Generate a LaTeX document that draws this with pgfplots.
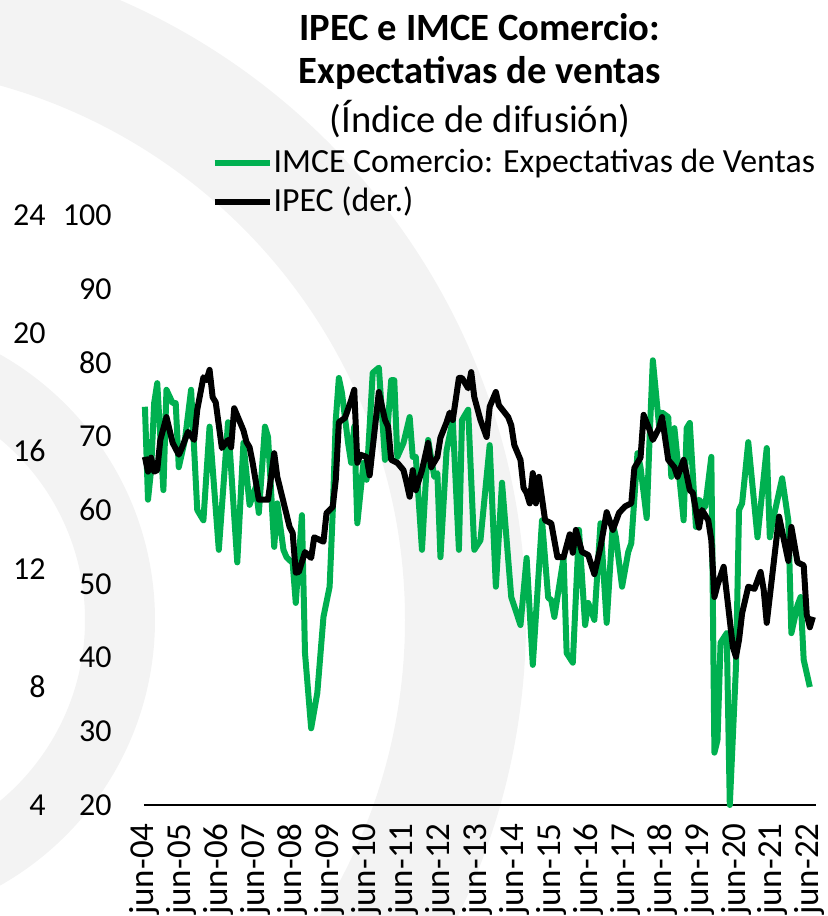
\documentclass[border=0pt]{standalone}
\usepackage{fontspec}
\setmainfont{Carlito}
\usepackage{pgfplots}
\pgfplotsset{compat=1.18}
\definecolor{imce}{HTML}{00B050}
\definecolor{bgring}{HTML}{F3F3F3}
\newcommand{\tickfont}{\fontsize{16}{19}\selectfont}
\newcommand{\xtickfont}{\fontsize{17.5}{21}\selectfont}
\newcommand{\legfont}{\fontsize{16.9}{20}\selectfont}
\begin{document}
\begin{tikzpicture}
\path[use as bounding box] (-72pt,-55.5pt) rectangle (342pt,402.5pt);
% faint background rings (decoration)
\fill[bgring, even odd rule] (-147pt,92.5pt) circle (338pt) (-147pt,92.5pt) circle (277.5pt);
\fill[bgring, even odd rule] (-147pt,92.5pt) circle (152.5pt) (-147pt,92.5pt) circle (117.5pt);
\begin{axis}[
  scale only axis, width=336pt, height=295pt,
  xmin=-0.3, xmax=218, ymin=20, ymax=100,
  axis x line*=bottom, axis y line*=left,
  y axis line style={draw=none},
  x axis line style={line width=0.8pt},
  xtick={0,12,...,216},
  xticklabels={jun-04,jun-05,jun-06,jun-07,jun-08,jun-09,jun-10,jun-11,jun-12,jun-13,jun-14,jun-15,jun-16,jun-17,jun-18,jun-19,jun-20,jun-21,jun-22},
  ytick={20,30,...,100},
  major tick length=0pt,
  xticklabel style={rotate=90, anchor=east, inner sep=0pt, font=\xtickfont},
  xticklabel shift=9pt,
  yticklabel style={anchor=east, inner sep=0pt, font=\tickfont},
  yticklabel shift=16pt,
  /pgf/number format/assume math mode=true,
  clip=false,
  legend style={draw=none, fill=none, at={(0.1000,1.0551)}, anchor=west, inner sep=0pt,
    row sep=5.5pt, font=\legfont,
    nodes={inner sep=0pt, inner xsep=0.5pt, text height=12pt, text depth=2pt}},
  legend cell align=left,
  legend image code/.code={\draw[#1] (0pt,0pt) -- (27.5pt,0pt);},
]
\addplot[imce, line width=3pt, line join=round] coordinates {
(0,74.0) (1,61.4) (2,65.4) (3,74.5) (4,77.2) (6,62.7) (7,76.3) (9,74.5) (10,74.5) (11,65.8) (13,69.5) (15,76.3) (17,60.0) (19,58.6) (21,71.3) (24,54.6) (27,71.9) (30,52.9) (32,69.1) (34,60.7) (36,63.1) (37,59.6) (39,71.3) (40,69.9) (42,55.0) (43,60.9) (45,54.6) (46,53.6) (48,52.8) (49,47.4) (51,59.3) (52,40.6) (54,30.4) (56,35.2) (58,45.5) (60,49.6) (61,59.6) (62,72.2) (63,77.9) (64,75.9) (66,69.1) (67,66.4) (68,71.3) (69,58.2) (71,66.4) (72,64.1) (74,78.6) (76,79.3) (78,66.8) (80,77.6) (81,77.6) (82,67.2) (84,69.1) (86,72.6) (87,67.2) (88,67.2) (90,54.6) (92,69.5) (94,64.5) (95,65.0) (96,53.6) (98,68.1) (100,72.2) (102,54.6) (103,72.2) (105,73.6) (107,54.6) (109,55.9) (112,68.8) (114,49.6) (116,63.7) (119,48.2) (122,44.4) (124,53.5) (126,39.0) (129,58.6) (131,48.1) (132,47.8) (133,45.5) (136,53.5) (137,40.6) (139,39.3) (141,57.3) (143,44.4) (144,47.4) (146,45.1) (148,58.2) (150,44.7) (152,58.2) (153,56.3) (155,49.6) (157,54.3) (158,55.5) (160,67.7) (161,65.8) (163,58.9) (164,70.4) (165,80.3) (167,71.5) (168,73.2) (170,72.6) (171,64.5) (172,71.1) (175,58.6) (176,71.1) (177,71.8) (179,57.7) (180,61.4) (182,60.4) (184,67.2) (185,27.1) (186,28.8) (187,42.0) (189,43.3) (190,20.0) (192,38.7) (193,60.0) (194,60.9) (196,69.2) (199,56.3) (202,68.4) (203,56.3) (204,58.6) (207,64.3) (209,58.6) (210,43.3) (212,47.1) (213,48.2) (214,39.7) (216,36.0)
};
\addlegendentry{IMCE Comercio: Expectativas de Ventas}
\addplot[black, line width=3pt, line join=round] coordinates {
(0,67.2) (1,65.2) (2,67.1) (3,65.2) (4,65.4) (5,69.5) (7,72.6) (9,69.1) (11,67.5) (12,68.4) (14,70.6) (16,69.5) (17,73.6) (19,78.0) (20,77.6) (21,79.0) (22,75.3) (23,74.6) (25,68.4) (27,69.5) (28,68.5) (29,73.8) (32,70.8) (33,69.2) (34,68.5) (35,66.4) (37,61.4) (40,61.4) (42,67.7) (43,64.5) (47,57.7) (48,56.9) (49,51.5) (50,51.6) (52,54.3) (54,53.5) (55,56.3) (58,55.7) (59,59.6) (61,60.4) (62,64.1) (63,71.9) (65,72.5) (67,74.9) (68,76.3) (69,66.4) (70,67.5) (72,67.2) (73,64.7) (76,76.0) (78,72.2) (79,71.3) (80,66.8) (82,66.4) (84,65.4) (85,63.7) (86,61.8) (87,65.4) (88,62.7) (90,65.4) (92,69.1) (93,65.8) (95,67.2) (96,69.8) (98,71.9) (99,73.2) (100,72.2) (102,77.9) (103,77.9) (105,76.5) (106,78.7) (107,75.3) (109,72.2) (111,69.9) (112,74.0) (114,76.0) (115,74.2) (118,72.6) (119,71.5) (120,68.8) (122,66.8) (123,63.0) (124,62.3) (125,60.9) (126,65.0) (127,60.9) (128,64.5) (130,58.6) (132,58.2) (134,53.6) (136,53.6) (138,56.7) (139,54.2) (140,57.3) (142,54.3) (144,53.9) (146,51.3) (148,55.0) (150,59.7) (152,57.3) (154,59.6) (156,60.5) (158,60.9) (159,65.7) (161,67.1) (162,72.9) (164,70.8) (165,69.5) (167,71.1) (168,72.6) (170,66.8) (172,65.8) (173,64.5) (175,66.8) (177,62.7) (178,62.3) (180,57.6) (181,60.0) (183,58.6) (184,55.9) (185,48.2) (186,49.8) (188,52.3) (191,41.4) (192,40.1) (193,42.4) (194,46.0) (196,49.6) (198,49.3) (200,51.6) (201,49.2) (202,44.7) (204,51.9) (206,59.1) (209,53.1) (210,57.7) (212,52.9) (214,52.5) (215,45.8) (216,44.1) (217,45.5)
};
\addlegendentry{IPEC (der.)}
\end{axis}
\begin{axis}[
  scale only axis, width=336pt, height=295pt,
  xmin=0, xmax=1, ymin=4, ymax=24,
  hide x axis, axis y line*=left,
  y axis line style={draw=none},
  ytick={4,8,...,24},
  major tick length=0pt,
  yticklabel style={anchor=east, inner sep=0pt, font=\tickfont},
  yticklabel shift=49pt,
  /pgf/number format/assume math mode=true,
]
\end{axis}
\node[anchor=base, font=\fontsize{19.3}{22}\selectfont\bfseries] at (168pt,382pt) {IPEC e IMCE Comercio:};
\node[anchor=base, font=\fontsize{19.3}{22}\selectfont\bfseries] at (168pt,360.5pt) {Expectativas de ventas};
\node[anchor=base, font=\fontsize{19.3}{22}\selectfont] at (168pt,336pt) {(Índice de difusión)};
\end{tikzpicture}
\end{document}
